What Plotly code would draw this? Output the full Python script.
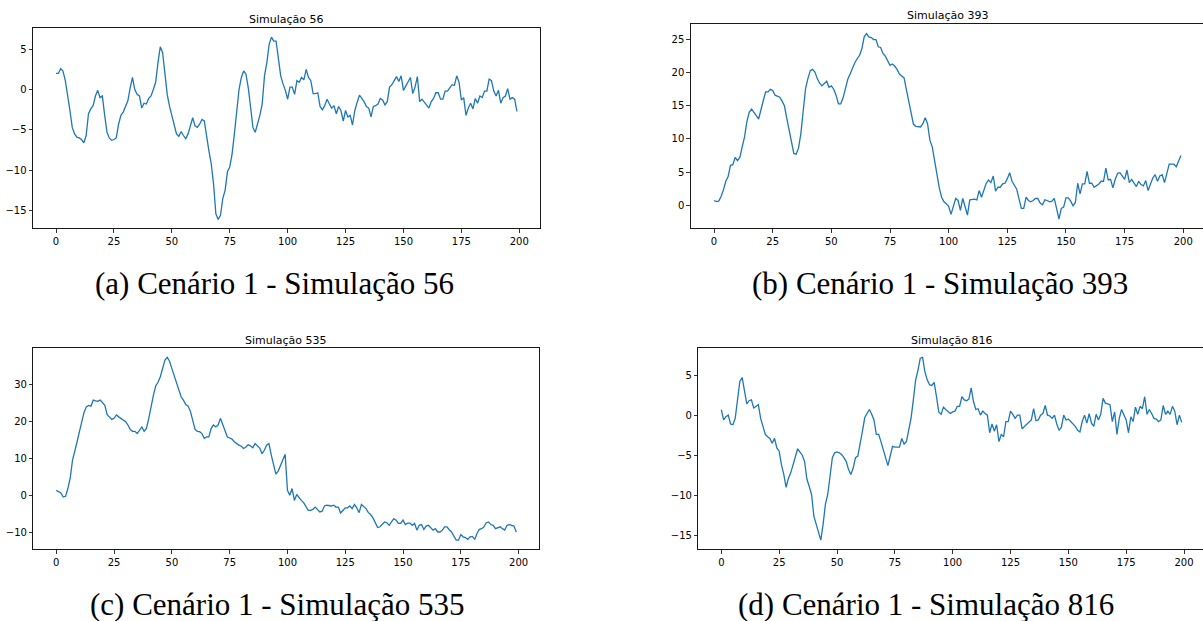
import plotly.graph_objects as go

# ---------------- data ----------------
steps = list(range(200))

sim56 = [
    2.0, 2.0, 2.6, 2.3, 1.1, -0.6, -2.6, -4.7, -5.5, -5.9,
    -6.0, -6.2, -6.6, -5.7, -3.0, -2.4, -2.0, -0.8, -0.1, -1.0,
    -0.8, -3.2, -5.3, -6.0, -6.3, -6.2, -6.0, -4.3, -3.2, -2.8,
    -2.0, -1.4, 0.2, 1.5, 0.0, -0.6, -0.8, -2.3, -1.7, -1.8,
    -1.1, -0.8, 0.0, 0.9, 3.3, 5.3, 4.6, 1.9, -0.6, -2.1,
    -3.2, -4.3, -5.5, -5.8, -5.2, -5.7, -6.1, -5.5, -4.5, -3.5,
    -4.5, -4.7, -4.3, -3.7, -3.9, -5.9, -7.6, -9.2, -11.7, -15.4,
    -16.1, -15.6, -13.5, -12.5, -10.2, -9.6, -8.0, -5.5, -2.6, 0.0,
    1.5, 2.3, 1.9, 0.2, -2.2, -4.7, -5.3, -4.3, -3.2, -1.8,
    1.7, 3.3, 5.6, 6.5, 6.0, 6.0, 3.5, 1.7, 0.7, -0.1,
    -1.2, 0.3, 0.3, -0.6, 1.1, 0.9, 1.5, 1.2, 2.5, 1.5,
    1.1, -0.5, -0.5, -0.4, -2.1, -2.5, -2.0, -1.2, -1.8, -2.3,
    -2.0, -3.0, -2.1, -2.6, -3.9, -2.6, -3.4, -3.2, -4.4, -2.6,
    -1.6, -0.7, -1.1, -1.5, -2.1, -2.3, -3.4, -2.1, -2.0, -1.8,
    -1.1, -1.3, -1.9, -1.5, 0.3, 0.6, 1.1, 1.6, 1.0, 1.7,
    -0.1, 0.5, 1.1, 1.5, -0.5, 0.3, 1.6, -1.5, -1.2, -1.6,
    -1.9, -2.3, -1.5, -1.1, -0.4, -0.4, -1.2, -1.2, -0.2, -0.2,
    0.2, 0.6, 0.5, 1.7, 0.9, -1.3, -1.0, -3.2, -2.3, -1.7,
    -2.4, -1.1, -1.7, -0.8, -1.0, -0.2, -0.2, 1.3, 1.1, -0.2,
    -0.8, -0.1, -1.7, -1.0, -0.8, 0.1, -1.2, -1.0, -1.2, -2.7,
]

sim393 = [
    0.7, 0.55, 0.6, 1.3, 2.3, 3.6, 4.3, 6.0, 6.1, 7.2,
    6.7, 7.2, 8.8, 10.3, 12.6, 14.0, 14.5, 13.9, 13.5, 13.0,
    14.6, 15.8, 17.1, 17.1, 17.5, 17.3, 16.6, 16.4, 16.3, 15.7,
    15.0, 13.1, 11.3, 9.3, 7.8, 7.7, 8.6, 10.8, 14.4, 17.6,
    19.1, 20.3, 20.5, 20.1, 19.1, 18.4, 18.0, 18.4, 18.7, 17.8,
    18.0, 17.5, 16.6, 15.3, 15.3, 16.2, 17.6, 19.0, 19.8, 20.7,
    21.5, 22.1, 22.6, 23.6, 25.4, 25.9, 25.4, 25.3, 25.0, 25.0,
    23.9, 23.8, 22.9, 22.5, 21.9, 21.1, 21.3, 21.0, 20.5, 19.8,
    19.5, 19.2, 17.4, 15.8, 13.9, 12.2, 11.9, 11.8, 11.8, 12.3,
    13.2, 12.3, 9.8, 8.8, 6.5, 4.5, 2.6, 1.2, 0.5, 0.2,
    -0.2, -1.4, -0.3, 1.0, 0.7, -0.8, 1.0, -0.3, -1.5, 0.8,
    0.9, 0.9, 0.8, 2.2, 1.2, 2.4, 3.3, 3.8, 3.4, 4.4,
    2.1, 2.7, 2.7, 3.2, 3.3, 4.0, 4.9, 3.6, 2.9, 2.4,
    0.9, -0.5, -0.5, 1.2, 0.7, 0.5, 0.7, 1.0, 1.0, 0.3,
    0.05, 0.8, 0.7, 0.5, 0.6, 1.0, -0.5, -2.1, -0.5, -0.3,
    1.1, 1.1, 0.6, -0.1, 0.4, 3.3, 1.7, 3.2, 3.2, 5.1,
    3.3, 3.3, 2.7, 2.9, 3.2, 3.6, 3.6, 5.6, 3.8, 3.9,
    2.6, 3.9, 4.8, 4.9, 4.3, 3.9, 5.3, 3.4, 3.9, 3.3,
    2.8, 3.6, 3.1, 2.9, 3.7, 2.2, 3.3, 4.1, 4.6, 3.6,
    4.4, 4.6, 3.4, 4.7, 6.2, 6.2, 6.2, 5.8, 6.6, 7.5,
]

sim535 = [
    1.4, 1.0, 0.7, -0.4, -0.2, 1.9, 4.6, 9.5, 11.8, 14.5,
    17.2, 19.9, 22.4, 23.9, 24.3, 24.1, 25.7, 25.5, 25.4, 25.7,
    25.1, 24.3, 21.8, 21.0, 20.5, 20.8, 21.7, 21.2, 20.8, 20.3,
    19.9, 19.0, 17.8, 17.3, 17.3, 16.7, 17.6, 18.5, 17.3, 18.1,
    20.8, 24.3, 27.0, 29.5, 30.5, 32.0, 34.2, 36.5, 37.2, 36.2,
    34.2, 32.4, 30.6, 28.4, 26.6, 25.7, 24.5, 24.1, 22.7, 20.3,
    17.9, 17.3, 17.2, 16.7, 15.4, 15.8, 15.8, 18.1, 19.0, 18.5,
    19.0, 20.8, 19.1, 17.2, 15.8, 15.5, 15.2, 14.5, 14.0, 13.6,
    13.3, 12.7, 13.1, 13.7, 13.4, 12.9, 14.0, 13.4, 12.8, 11.3,
    12.2, 13.6, 14.0, 10.9, 8.2, 5.8, 6.6, 8.2, 9.5, 11.1,
    1.4, 0.1, 1.9, -1.3, 0.3, -0.6, -1.3, -1.9, -2.9, -4.0,
    -4.0, -3.7, -3.1, -3.8, -4.4, -4.2, -2.8, -2.6, -2.8, -2.8,
    -2.6, -3.1, -3.1, -4.7, -4.0, -3.3, -3.3, -2.8, -3.5, -2.4,
    -3.3, -4.6, -2.4, -3.1, -3.5, -4.6, -5.1, -6.0, -7.5, -8.6,
    -8.4, -7.7, -7.1, -7.3, -8.0, -7.1, -6.2, -6.6, -7.5, -7.5,
    -6.6, -7.8, -7.4, -7.4, -8.0, -7.5, -9.3, -8.0, -7.8, -9.1,
    -8.2, -8.0, -8.7, -9.3, -8.9, -9.8, -9.8, -9.3, -8.4, -8.4,
    -9.2, -9.8, -10.9, -12.0, -12.0, -10.5, -11.1, -11.3, -11.8, -11.1,
    -11.0, -11.8, -10.2, -9.1, -8.9, -8.4, -7.3, -7.1, -7.8, -8.0,
    -8.9, -8.6, -8.4, -8.9, -9.3, -8.0, -7.8, -8.0, -8.2, -9.8,
]

sim816 = [
    0.7, -0.6, -0.2, 0.0, -1.1, -1.2, -0.4, 2.3, 4.2, 4.7,
    2.9, 1.4, 1.8, 1.9, 0.9, 1.1, 1.3, -0.4, -1.4, -2.4,
    -2.7, -2.9, -3.5, -2.9, -4.1, -4.5, -6.2, -7.4, -9.0, -7.9,
    -7.2, -6.2, -5.1, -4.2, -4.6, -5.0, -5.8, -8.0, -8.9, -9.9,
    -12.6, -13.6, -14.7, -15.6, -13.6, -11.1, -9.9, -7.8, -5.3, -4.7,
    -4.6, -4.7, -4.9, -5.3, -5.8, -6.8, -7.4, -6.6, -5.3, -5.1,
    -3.7, -2.0, -0.3, 0.25, 0.7, 0.1, -0.6, -2.4, -2.4, -3.3,
    -4.2, -5.1, -6.3, -5.1, -3.9, -4.0, -4.0, -4.0, -2.9, -3.6,
    -3.3, -2.0, -0.4, 1.9, 4.4, 5.6, 7.1, 7.2, 5.4, 4.4,
    3.8, 3.7, 4.1, 2.3, 0.4, 0.1, 1.0, 0.7, 0.5, 0.2,
    0.4, 0.5, 1.1, 1.1, 2.3, 1.9, 1.8, 2.0, 3.4, 1.7,
    0.7, 0.8, 0.0, 0.5, 0.2, 0.0, -2.2, -1.1, -2.0, -1.2,
    -3.3, -2.4, -2.7, -0.8, -0.8, 0.5, 0.1, -0.4, 0.0, 0.0,
    -1.7, -1.4, -1.1, -0.9, -0.6, 0.8, -0.7, -0.6, 0.0, 0.2,
    1.2, 0.0, -0.1, -0.4, 0.0, -1.1, -1.9, -1.5, 0.0, -0.6,
    -0.5, -0.8, -1.1, -1.4, -1.9, -2.1, -0.8, 0.0, -1.0, 0.2,
    -1.0, -1.4, 0.1, -0.6, 0.1, 2.1, 1.5, 1.4, 1.3, -0.8,
    0.4, -2.4, -0.4, 0.7, 0.1, -0.6, -2.2, -0.2, -0.8, 1.0,
    0.1, 1.1, 0.8, 2.3, 0.1, 0.7, 0.2, -0.4, -0.5, -0.8,
    -0.6, 1.2, 0.1, 0.5, 0.1, 1.1, 0.5, -1.2, 0.0, -0.9,
]

titles = ["Simulação 56", "Simulação 393", "Simulação 535", "Simulação 816"]
captions = [
    "(a) Cenário 1 - Simulação 56",
    "(b) Cenário 1 - Simulação 393",
    "(c) Cenário 1 - Simulação 535",
    "(d) Cenário 1 - Simulação 816",
]
y_dticks = [5, 5, 10, 5]
x_ticks = [0, 25, 50, 75, 100, 125, 150, 175, 200]

# ---------------- layout helpers (pixel geometry) ----------------
W, H = 1203, 621


def px(x):
    return x / W


def py(y):
    return 1 - y / H


panels = [
    dict(l=33.0, r=540.0, t=28.0, b=228.5, xr=208.95, title_y=19.0, title_x=286.5, cap_x=274.0, cap_y=283.0, mirror_y=True),
    dict(l=690.7, r=1203.0, t=24.3, b=228.3, xr=208.4, title_y=15.5, title_x=947.5, cap_x=940.0, cap_y=283.0, mirror_y=False),
    dict(l=33.3, r=539.3, t=348.3, b=549.3, xr=208.95, title_y=340.0, title_x=286.3, cap_x=277.0, cap_y=604.0, mirror_y=True),
    dict(l=698.3, r=1203.0, t=348.3, b=549.3, xr=208.2, title_y=340.0, title_x=951.7, cap_x=926.0, cap_y=604.0, mirror_y=False),
]

series = [sim56, sim393, sim535, sim816]

fig = go.Figure()
tick_font = dict(family="DejaVu Sans", size=10, color="#000000")
annotations = []

for k, (p, ys) in enumerate(zip(panels, series)):
    n = "" if k == 0 else str(k + 1)
    fig.add_trace(go.Scatter(
        x=steps, y=ys, mode="lines",
        line=dict(color="#1f77b4", width=1.3),
        xaxis="x" + n, yaxis="y" + n, showlegend=False,
        hoverinfo="skip",
    ))
    ymin, ymax = min(ys), max(ys)
    span = ymax - ymin
    xaxis = dict(
        domain=[px(p["l"]), px(p["r"])],
        range=[-9.95, p["xr"]],
        anchor="y" + n,
        tickvals=x_ticks,
        ticks="outside", ticklen=3.5, tickwidth=0.8, tickcolor="#000000",
        showline=True, linecolor="#000000", linewidth=0.9, mirror=True,
        showgrid=False, zeroline=False, tickfont=tick_font,
    )
    yaxis = dict(
        domain=[py(p["b"]), py(p["t"])],
        range=[ymin - 0.05 * span, ymax + 0.05 * span],
        anchor="x" + n,
        tick0=0, dtick=y_dticks[k],
        ticks="outside", ticklen=3.5, tickwidth=0.8, tickcolor="#000000",
        showline=True, linecolor="#000000", linewidth=0.9, mirror=p["mirror_y"],
        showgrid=False, zeroline=False, tickfont=tick_font,
    )
    fig.layout["xaxis" + n] = xaxis
    fig.layout["yaxis" + n] = yaxis

    annotations.append(dict(
        text=titles[k], xref="paper", yref="paper",
        x=px(p["title_x"]), y=py(p["title_y"]),
        xanchor="center", yanchor="middle", showarrow=False,
        font=dict(family="DejaVu Sans", size=11, color="#000000"),
    ))
    annotations.append(dict(
        text=captions[k], xref="paper", yref="paper",
        x=px(p["cap_x"]), y=py(p["cap_y"]),
        xanchor="center", yanchor="middle", showarrow=False,
        font=dict(family="Liberation Serif", size=31, color="#000000"),
    ))

fig.update_layout(
    width=W, height=H,
    margin=dict(l=0, r=0, t=0, b=0),
    paper_bgcolor="#ffffff", plot_bgcolor="#ffffff",
    annotations=annotations,
    showlegend=False,
)

fig.write_html(
    "out.html",
    config={"displayModeBar": False, "staticPlot": True},
    post_script="document.body.style.margin='0';document.body.style.overflow='hidden';",
)
